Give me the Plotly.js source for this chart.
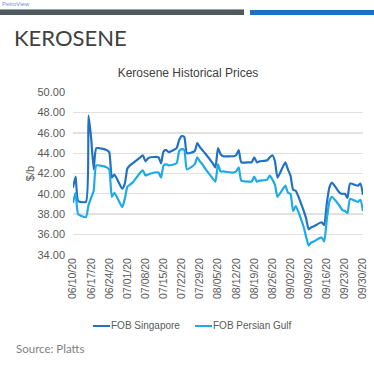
<!DOCTYPE html>
<html>
<head>
<meta charset="utf-8">
<script src="https://cdn.plot.ly/plotly-3.0.1.min.js"></script>
<style>
  html, body { margin: 0; padding: 0; background: #ffffff; width: 374px; height: 369px; overflow: hidden; }
  #page { position: relative; width: 374px; height: 369px; overflow: hidden; background: #fff; }
  #chart { position: absolute; left: 0; top: 0; width: 374px; height: 369px; }
  .abs { position: absolute; white-space: nowrap; }
  .lgline { position: absolute; height: 2px; }
  .lgtext { position: absolute; white-space: nowrap; font-family: 'Liberation Sans', Arial, sans-serif;
            font-size: 10px; color: #595959; line-height: 12px; }
</style>
</head>
<body>
<div id="page">
  <div id="chart"></div>
  <div class="abs" style="left:2px; top:1px; font-family:'Liberation Sans',Arial,sans-serif; font-size:6px; color:#6f8fd0;">PetroView</div>
  <div class="abs" style="left:0px; top:9px; width:244px; height:6px; background:#4e585d; border-top:1px solid #9aa2a6; box-sizing:border-box;"></div>
  <div class="abs" style="left:250px; top:10px; width:124px; height:5px; background:#1a6fc9;"></div>
  <div class="abs" style="left:14px; top:24px; font-family:Lato,'Open Sans',sans-serif; font-size:22px; color:#404040;">KEROSENE</div>
  <div class="abs" style="left:16px; top:342px; font-family:Lato,'Open Sans',sans-serif; font-size:11.5px; color:#7f7f7f;">Source: Platts</div>
  <div id="legend"></div>
</div>
<script>
// ---- data ----
const dates = [
  "2020-06-10","2020-06-11","2020-06-12","2020-06-15","2020-06-16","2020-06-17","2020-06-18","2020-06-19",
  "2020-06-22","2020-06-23","2020-06-24","2020-06-25","2020-06-26","2020-06-29","2020-06-30",
  "2020-07-01","2020-07-02","2020-07-03","2020-07-06","2020-07-07","2020-07-08","2020-07-09","2020-07-10",
  "2020-07-13","2020-07-14","2020-07-15","2020-07-16","2020-07-17","2020-07-20","2020-07-21","2020-07-22",
  "2020-07-23","2020-07-24","2020-07-27","2020-07-28","2020-07-29","2020-07-30","2020-07-31",
  "2020-08-03","2020-08-04","2020-08-05","2020-08-06","2020-08-07","2020-08-10","2020-08-11","2020-08-12",
  "2020-08-13","2020-08-14","2020-08-17","2020-08-18","2020-08-19","2020-08-20","2020-08-21","2020-08-24",
  "2020-08-25","2020-08-26","2020-08-27","2020-08-28","2020-08-31",
  "2020-09-01","2020-09-02","2020-09-03","2020-09-04","2020-09-07","2020-09-08","2020-09-09","2020-09-10",
  "2020-09-11","2020-09-14","2020-09-15","2020-09-16","2020-09-17","2020-09-18","2020-09-21","2020-09-22",
  "2020-09-23","2020-09-24","2020-09-25","2020-09-28","2020-09-29","2020-09-30"
];
const fobSingapore = [
  40.6,41.7,39.3,39.2,47.7,45.5,42.4,44.5,
  44.4,44.3,44.1,41.6,41.9,40.5,41.0,
  42.5,42.8,43.0,43.6,43.8,43.2,43.5,43.6,
  43.6,43.0,44.2,44.3,44.1,44.5,45.3,45.7,
  45.6,44.0,44.2,45.0,44.6,44.3,44.0,
  43.0,42.6,44.5,43.9,43.7,43.7,43.7,43.8,
  44.3,43.1,43.1,43.1,43.6,43.1,43.2,43.3,
  43.6,43.8,43.2,41.6,43.1,
  42.4,41.8,40.4,40.3,38.4,37.6,36.5,36.7,
  36.8,37.2,36.9,39.0,40.6,41.1,40.1,40.0,
  40.0,39.6,41.0,40.8,41.0,39.9
];
const fobPersianGulf = [
  39.1,40.1,38.0,37.7,38.9,39.6,40.3,42.8,
  42.7,42.6,42.4,39.7,40.1,38.7,39.5,
  40.7,40.9,41.1,42.1,42.3,41.8,41.9,42.0,
  42.1,41.6,42.8,42.9,42.8,43.0,44.2,44.4,
  44.3,42.4,42.9,43.6,43.2,42.9,42.5,
  41.5,41.2,42.9,42.2,42.2,42.1,42.1,42.2,
  42.6,41.3,41.2,41.2,41.7,41.2,41.3,41.4,
  41.8,41.4,40.9,39.7,40.8,
  40.1,40.0,38.3,38.8,36.8,35.8,34.9,35.2,
  35.3,35.7,35.3,37.4,39.2,39.7,38.8,38.4,
  38.3,38.1,39.5,39.2,39.4,38.3
];
const tickDates = [
  "2020-06-10","2020-06-17","2020-06-24","2020-07-01","2020-07-08","2020-07-15","2020-07-22","2020-07-29",
  "2020-08-05","2020-08-12","2020-08-19","2020-08-26","2020-09-02","2020-09-09","2020-09-16","2020-09-23","2020-09-30"
];
const tickLabels = [
  "06/10/20","06/17/20","06/24/20","07/01/20","07/08/20","07/15/20","07/22/20","07/29/20",
  "08/05/20","08/12/20","08/19/20","08/26/20","09/02/20","09/09/20","09/16/20","09/23/20","09/30/20"
];
const seriesNames = ["FOB Singapore", "FOB Persian Gulf"];
const seriesColors = ["#2272c3", "#1eaae6"];

const traces = [
  {x: dates, y: fobSingapore, name: seriesNames[0], type: 'scatter', mode: 'lines',
   line: {color: seriesColors[0], width: 2.2, shape: 'spline', smoothing: 0.5}},
  {x: dates, y: fobPersianGulf, name: seriesNames[1], type: 'scatter', mode: 'lines',
   line: {color: seriesColors[1], width: 2.2, shape: 'spline', smoothing: 0.5}}
];

const layout = {
  width: 374, height: 369,
  margin: {l: 73, r: 11, t: 92, b: 114, pad: 0, autoexpand: false},
  paper_bgcolor: 'rgba(0,0,0,0)', plot_bgcolor: 'rgba(0,0,0,0)',
  font: {family: "'Liberation Sans', Arial, sans-serif", color: '#595959'},
  title: {text: 'Kerosene Historical Prices', font: {size: 12, color: '#404040'},
          x: 188 / 374, xref: 'container', xanchor: 'center',
          y: 1, yref: 'paper', yanchor: 'bottom', pad: {b: 15}},
  xaxis: {
    type: 'date', range: ['2020-06-10', '2020-09-30'], automargin: false,
    tickmode: 'array', tickvals: tickDates, ticktext: tickLabels,
    tickangle: -90, tickfont: {size: 10.5, color: '#595959'},
    showgrid: false, zeroline: false, showline: false, ticks: '', fixedrange: true
  },
  yaxis: {
    range: [33.97, 50.03], tickmode: 'linear', tick0: 34, dtick: 2, tickformat: '.2f', automargin: false,
    tickfont: {size: 11, color: '#595959'}, gridcolor: '#e1e1e1', gridwidth: 1.3,
    zeroline: false, showline: false, ticks: '', ticklabelstandoff: 7,
    title: {text: '$/b', font: {size: 11, color: '#595959'}, standoff: 0}
  },
  showlegend: false
};

Plotly.newPlot('chart', traces, layout, {displayModeBar: false, staticPlot: true});

// legend (Excel-style short line samples)
const legendBox = document.getElementById('legend');
const legendX = [93, 195];
seriesNames.forEach(function (name, i) {
  const ln = document.createElement('div');
  ln.className = 'lgline';
  ln.style.left = legendX[i] + 'px';
  ln.style.top = '325px';
  ln.style.width = '17px';
  ln.style.background = seriesColors[i];
  legendBox.appendChild(ln);
  const tx = document.createElement('div');
  tx.className = 'lgtext';
  tx.style.left = (legendX[i] + 18) + 'px';
  tx.style.top = '320px';
  tx.textContent = name;
  legendBox.appendChild(tx);
});
</script>
</body>
</html>
